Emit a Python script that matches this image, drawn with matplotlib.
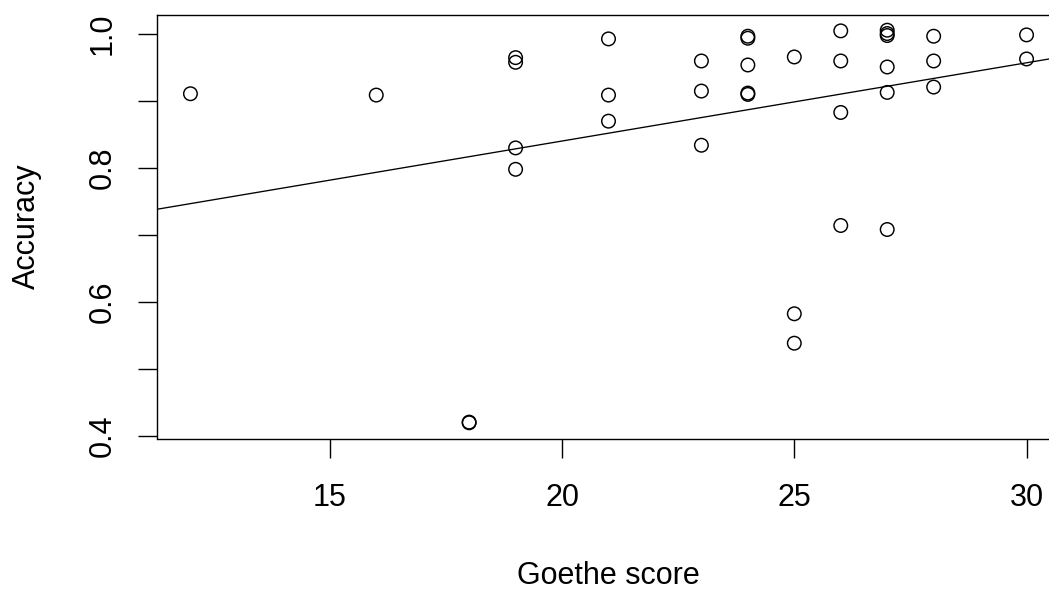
import matplotlib
matplotlib.use("Agg")
import matplotlib.pyplot as plt
import numpy as np

plt.rcParams['font.family'] = ['Liberation Sans', 'DejaVu Sans']

# Data
goethe_score = [12, 16, 18, 18,
                19, 19, 19, 19,
                21, 21, 21,
                23, 23, 23,
                24, 24, 24, 24, 24,
                25, 25, 25,
                26, 26, 26, 26,
                27, 27, 27, 27, 27, 27,
                28, 28, 28,
                30, 30]
accuracy = [0.911, 0.909, 0.419, 0.420,
            0.965, 0.958, 0.830, 0.798,
            0.993, 0.909, 0.870,
            0.960, 0.915, 0.834,
            0.997, 0.994, 0.954, 0.912, 0.910,
            0.966, 0.582, 0.538,
            1.005, 0.960, 0.883, 0.714,
            1.006, 1.001, 0.998, 0.951, 0.913, 0.708,
            0.997, 0.960, 0.921,
            0.999, 0.963]
fit_intercept = 0.6063
fit_slope = 0.0117

x_ticks = [15, 20, 25, 30]
y_ticks = [0.4, 0.5, 0.6, 0.7, 0.8, 0.9, 1.0]
y_ticklabels = ["0.4", "", "0.6", "", "0.8", "", "1.0"]

W, H = 1049, 589
fig = plt.figure(figsize=(W / 100, H / 100), dpi=100)
ax = fig.add_axes([157 / W, 1 - 438.5 / H, (1060 - 157) / W, (438.5 - 14.5) / H])

ax.scatter(goethe_score, accuracy, s=95, facecolors='none', edgecolors='black',
           linewidths=1.05, zorder=3)
ax.axline((0, fit_intercept), slope=fit_slope, color='black', lw=0.95)

xr = max(goethe_score) - min(goethe_score)
yr = max(accuracy) - min(accuracy)
ax.set_xlim(min(goethe_score) - 0.04 * xr, max(goethe_score) + 0.04 * xr)
ax.set_ylim(min(accuracy) - 0.04 * yr, max(accuracy) + 0.04 * yr)

ax.set_xticks(x_ticks)
ax.set_xticklabels([str(t) for t in x_ticks])
ax.set_yticks(y_ticks)
ax.set_yticklabels(y_ticklabels)

for sp in ax.spines.values():
    sp.set_linewidth(1.0)
    sp.set_color('black')

ax.tick_params(axis='both', direction='out', length=13.7, width=1.0,
               labelsize=22, colors='black')
ax.tick_params(axis='x', pad=18.5)
ax.tick_params(axis='y', pad=14.5, labelrotation=90)
for lab in ax.get_yticklabels():
    lab.set_va('center')

fig.text(608.5 / W, 1 - 583.5 / H, 'Goethe score', ha='center', va='baseline',
         fontsize=22)
fig.text(12 / W, 1 - 226.5 / H, 'Accuracy', ha='left', va='center',
         rotation=90, fontsize=22)

fig.savefig('out.png', dpi=100)
